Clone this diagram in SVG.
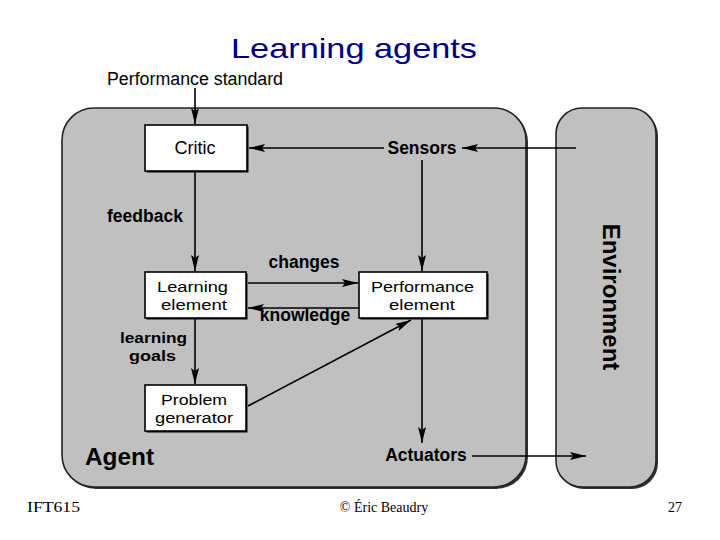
<svg xmlns="http://www.w3.org/2000/svg" width="720" height="540" viewBox="0 0 720 540">
<defs>
<marker id="ahv" viewBox="0 0 16 8" refX="16" refY="4" markerWidth="16" markerHeight="8" markerUnits="userSpaceOnUse" orient="auto">
<path d="M0,0 L16,4 L0,8 L3,4 z" fill="#000"/>
</marker>
</defs>
<style>
.box{fill:#fff;stroke:#000;stroke-width:1.6}
.shadow{fill:#000}
.panel{fill:#c0c0c0;stroke:#222;stroke-width:1.6}
.lbl{font-family:"Liberation Sans",Arial,sans-serif;font-size:18px;fill:#000}
.lbl2{font-family:"Liberation Sans",Arial,sans-serif;font-size:15.5px;fill:#000}
.bold{font-family:"Liberation Sans",Arial,sans-serif;font-size:17.5px;font-weight:bold;fill:#000}
.bold2{font-family:"Liberation Sans",Arial,sans-serif;font-size:15.5px;font-weight:bold;fill:#000}
.ft{font-family:"Liberation Serif","Times New Roman",serif;font-size:14px;fill:#000}
.c{stroke:#000;stroke-width:1.6;fill:none;marker-end:url(#ahv)}
</style>
<rect width="720" height="540" fill="#fff"/>
<text x="231" y="58" textLength="246" lengthAdjust="spacingAndGlyphs" font-family="'Liberation Sans',Arial,sans-serif" font-size="28" fill="#000080">Learning agents</text>

<g id="agent">
<rect x="64" y="110" width="464" height="379" rx="32" fill="#333"/>
<rect class="panel" x="62" y="108" width="464" height="379" rx="32"/>
<text x="85" y="465" class="bold" style="font-size:24px" textLength="69" lengthAdjust="spacingAndGlyphs">Agent</text>
</g>
<g id="environment">
<rect x="558" y="110" width="100" height="379" rx="26" fill="#333"/>
<rect class="panel" x="556" y="108" width="100" height="379" rx="26"/>
<text class="bold" style="font-size:24px" transform="translate(603,297) rotate(90)" text-anchor="middle">Environment</text>
</g>

<g id="connectors">
<line class="c" x1="195" y1="88" x2="195" y2="124"/>
<line class="c" x1="576" y1="148" x2="462" y2="148"/>
<line class="c" x1="384" y1="148" x2="249" y2="148"/>
<line class="c" x1="422" y1="160" x2="422" y2="271"/>
<line class="c" x1="195" y1="172" x2="195" y2="271"/>
<line class="c" x1="248" y1="283" x2="358" y2="283"/>
<line class="c" x1="359" y1="308" x2="248" y2="308"/>
<line class="c" x1="195" y1="319" x2="195" y2="384"/>
<line class="c" x1="248" y1="406" x2="411" y2="320"/>
<line class="c" x1="422" y1="319" x2="422" y2="443"/>
<line class="c" x1="472" y1="456" x2="586" y2="456"/>
</g>

<g id="labels">
<text x="107" y="85" class="lbl" textLength="176" lengthAdjust="spacingAndGlyphs">Performance standard</text>
<text x="422" y="154" class="bold" text-anchor="middle">Sensors</text>
<text x="107" y="222" class="bold">feedback</text>
<text x="304" y="268" class="bold" text-anchor="middle">changes</text>
<text x="305" y="321" class="bold" text-anchor="middle">knowledge</text>
<text x="120" y="343" class="bold2" textLength="67" lengthAdjust="spacingAndGlyphs">learning</text>
<text x="129" y="361" class="bold2" textLength="47" lengthAdjust="spacingAndGlyphs">goals</text>
<text x="426" y="461" class="bold" text-anchor="middle">Actuators</text>
</g>

<g id="critic">
<rect class="shadow" x="146.5" y="126.5" width="102" height="46"/>
<rect class="box" x="145" y="125" width="102" height="46"/>
<text x="195" y="154" class="lbl" text-anchor="middle">Critic</text>
</g>
<g id="learning-element">
<rect class="shadow" x="146.5" y="273.5" width="101" height="46"/>
<rect class="box" x="145" y="272" width="101" height="46"/>
<text x="157" y="292" class="lbl2" textLength="71" lengthAdjust="spacingAndGlyphs">Learning</text>
<text x="161" y="310" class="lbl2" textLength="66" lengthAdjust="spacingAndGlyphs">element</text>
</g>
<g id="performance-element">
<rect class="shadow" x="360.5" y="273.5" width="128" height="46"/>
<rect class="box" x="359" y="272" width="128" height="46"/>
<text x="371" y="292" class="lbl2" textLength="103" lengthAdjust="spacingAndGlyphs">Performance</text>
<text x="389" y="310" class="lbl2" textLength="66" lengthAdjust="spacingAndGlyphs">element</text>
</g>
<g id="problem-generator">
<rect class="shadow" x="146.5" y="386.5" width="101" height="46"/>
<rect class="box" x="145" y="385" width="101" height="46"/>
<text x="161" y="405" class="lbl2" textLength="66" lengthAdjust="spacingAndGlyphs">Problem</text>
<text x="155" y="423" class="lbl2" textLength="78" lengthAdjust="spacingAndGlyphs">generator</text>
</g>

<text x="27" y="512" class="ft" textLength="53" lengthAdjust="spacingAndGlyphs">IFT615</text>
<text x="384" y="512" class="ft" text-anchor="middle">© Éric Beaudry</text>
<text x="682" y="512" class="ft" text-anchor="end">27</text>
</svg>
